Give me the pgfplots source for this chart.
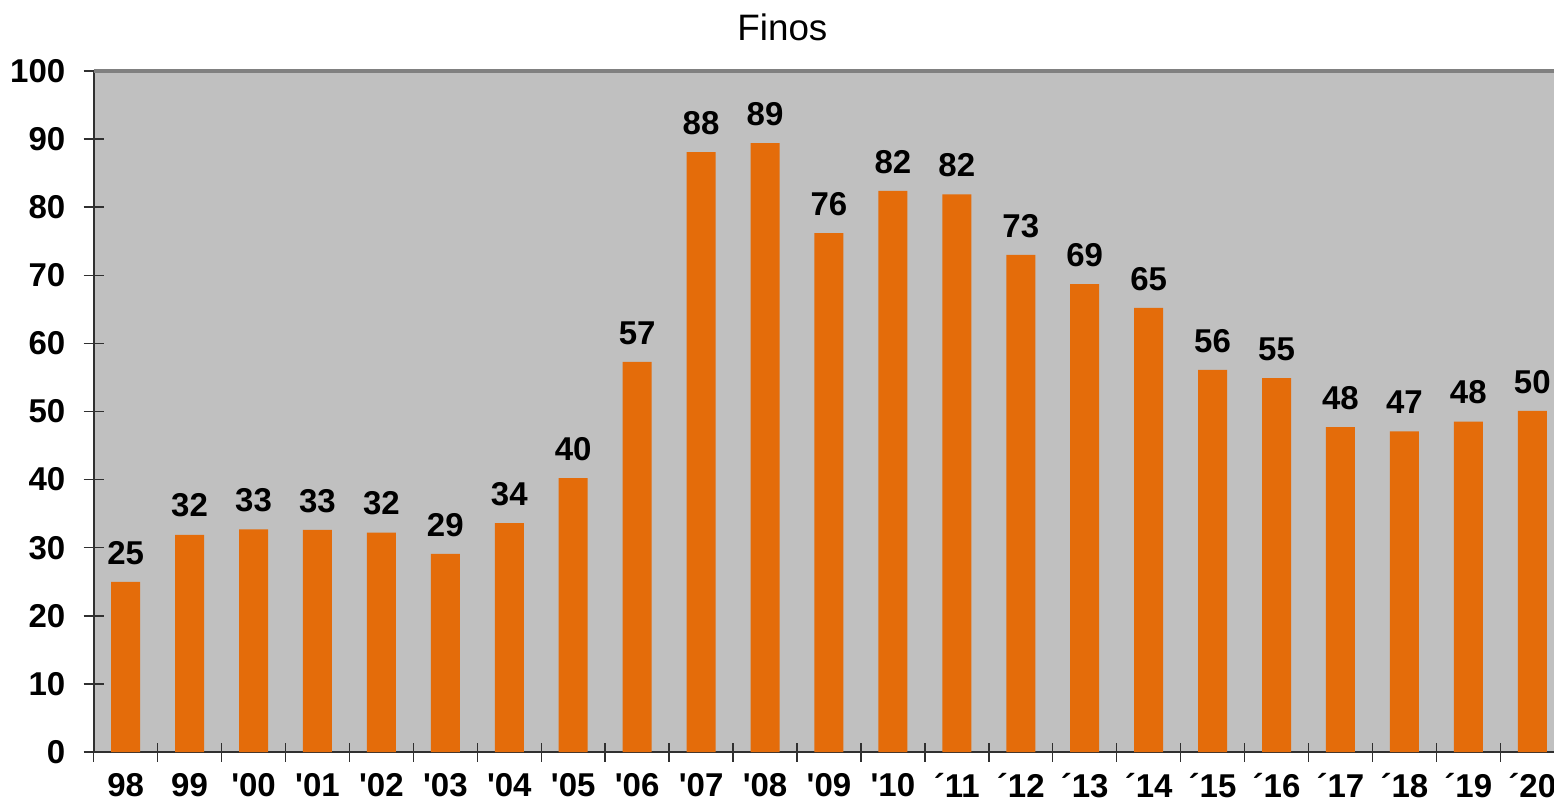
\documentclass[border=0pt]{standalone}
\usepackage{pgfplots}
\pgfplotsset{compat=1.18}
\usepackage{pgfplotstable}
\usepackage{fontspec}
\setmainfont{Liberation Sans}
\definecolor{barorange}{HTML}{E46C0A}
\definecolor{bgray}{HTML}{C0C0C0}
\definecolor{topgray}{HTML}{808080}
\definecolor{axdark}{HTML}{303030}
\pgfplotstableread{
x y lab
0 25.0 25
1 31.9 32
2 32.7 33
3 32.6 33
4 32.2 32
5 29.1 29
6 33.6 34
7 40.2 40
8 57.3 57
9 88.1 88
10 89.4 89
11 76.2 76
12 82.4 82
13 81.9 82
14 73.0 73
15 68.7 69
16 65.2 65
17 56.1 56
18 54.9 55
19 47.7 48
20 47.1 47
21 48.5 48
22 50.1 50
}\datatable
\begin{document}
\begin{tikzpicture}
\path[use as bounding box] (-46.85pt,-24pt) rectangle (730.15pt,376pt);
\begin{axis}[
  at={(0,0)}, anchor=south west,
  scale only axis, width=730.15pt, height=340.5pt,
  xmin=-0.5, xmax=22.34, ymin=0, ymax=100,
  axis x line*=bottom, axis y line*=left,
  x axis line style={draw=axdark, line width=1pt, -},
  y axis line style={draw=axdark, line width=1pt, -},
  axis background/.style={fill=bgray},
  clip=false,
  ybar, bar width=14.5pt,
  xtick={0,...,22},
  xticklabels={98,99,{\textquotesingle00},{\textquotesingle01},{\textquotesingle02},{\textquotesingle03},{\textquotesingle04},{\textquotesingle05},{\textquotesingle06},{\textquotesingle07},{\textquotesingle08},{\textquotesingle09},{\textquotesingle10},´11,´12,´13,´14,´15,´16,´17,´18,´19,´20},
  minor xtick={-0.5,0.5,...,21.5},
  major x tick style={draw=none},
  minor x tick style={draw=axdark, line width=0.7pt},
  minor tick length=9.5pt,
  ytick={0,10,...,100},
  major tick length=10pt,
  ytick style={draw=axdark, line width=0.7pt},
  tick align=center,
  /pgf/number format/assume math mode=true,
  ticklabel style={font=\fontsize{16.5}{19}\selectfont\bfseries},
  xticklabel style={inner sep=0pt, anchor=north, yshift=-5.5pt},
  yticklabel style={inner sep=0pt, anchor=east, xshift=-9pt},
  title={Finos},
  title style={at={(0.4716,1)}, anchor=base, inner sep=0pt, yshift=9pt, font=\fontsize{18.4}{22}\selectfont},
  point meta=explicit symbolic,
  nodes near coords,
  every node near coord/.append style={font=\fontsize{16.5}{19}\selectfont\bfseries, inner sep=0pt, anchor=south, yshift=8.5pt},
  after end axis/.code={\draw[topgray, line width=1.8pt] (rel axis cs:0,1) -- (rel axis cs:1,1);},
]
\addplot[fill=barorange, draw=none, bar shift=0pt] table[x=x, y=y, meta=lab] {\datatable};
\end{axis}
\end{tikzpicture}
\end{document}
